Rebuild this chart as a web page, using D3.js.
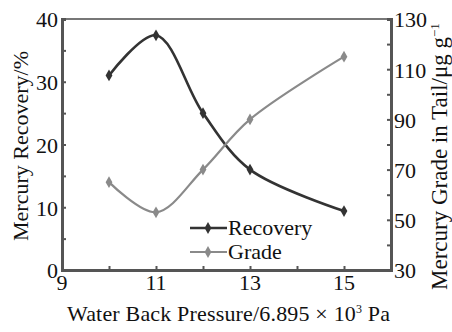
<!DOCTYPE html>
<html>
<head>
<meta charset="utf-8">
<script src="https://cdn.jsdelivr.net/npm/d3@7"></script>
<style>
  body { margin: 0; background: #fff; }
</style>
</head>
<body>
<svg id="chart" width="452" height="332"></svg>
<script>
// values
const pressure = [10, 11, 12, 13, 15];
const recovery = [31, 37.4, 25, 16, 9.4];
const grade = [65, 53, 70, 90, 115];

const xTicks = [9, 11, 13, 15];
const xMinor = [10, 12, 14];
const leftTicks = [0, 10, 20, 30, 40];
const leftMinor = [5, 15, 25, 35];
const rightTicks = [30, 50, 70, 90, 110, 130];
const rightMinor = [40, 60, 80, 100, 120];

const seriesNames = ['Recovery', 'Grade'];

const FONT = '"Liberation Serif", "Times New Roman", Times, "DejaVu Serif", serif';

const svg = d3.select('#chart')
    .attr('font-family', FONT)
    .style('font-family', FONT);
const margin = { left: 62, right: 61, top: 19, bottom: 62 };
const W = 452, H = 332;

const x = d3.scaleLinear().domain([9, 16]).range([margin.left, W - margin.right]);
const yL = d3.scaleLinear().domain([0, 40]).range([H - margin.bottom, margin.top]);
const yR = d3.scaleLinear().domain([30, 130]).range([H - margin.bottom, margin.top]);

const axisColor = '#555';
const fs = 22;

// frame: top border
svg.append('line')
    .attr('x1', x(9)).attr('x2', x(16))
    .attr('y1', yL(40)).attr('y2', yL(40))
    .style('stroke', '#777').style('stroke-width', 2);

const gx = svg.append('g')
    .attr('transform', `translate(0,${yL(0)})`)
    .call(d3.axisBottom(x).tickValues(xTicks.concat(xMinor)).tickSize(-4).tickFormat(''));
const gl = svg.append('g')
    .attr('transform', `translate(${x(9)},0)`)
    .call(d3.axisLeft(yL).tickValues(leftTicks.concat(leftMinor)).tickSize(-4).tickFormat(''));
const gr = svg.append('g')
    .attr('transform', `translate(${x(16)},0)`)
    .call(d3.axisRight(yR).tickValues(rightTicks.concat(rightMinor)).tickSize(-4).tickFormat(''));

[gx, gl, gr].forEach(g => {
    g.select('.domain').style('stroke', axisColor).style('stroke-width', 3);
    g.selectAll('.tick line').style('stroke', axisColor).style('stroke-width', 2);
});

function label(g) {
    return g.style('font-family', FONT).style('font-size', fs + 'px').style('fill', '#111');
}

// tick labels
label(svg.append('g').selectAll('text')
    .data(xTicks)
    .enter().append('text')
    .attr('x', d => x(d))
    .attr('y', yL(0) + 20)
    .attr('text-anchor', 'middle')
    .text(d => d));

label(svg.append('g').selectAll('text')
    .data(leftTicks)
    .enter().append('text')
    .attr('x', x(9) - 4)
    .attr('y', d => yL(d))
    .attr('dy', '0.38em')
    .attr('text-anchor', 'end')
    .text(d => d));

label(svg.append('g').selectAll('text')
    .data(rightTicks)
    .enter().append('text')
    .attr('x', x(16) + 3)
    .attr('y', d => yR(d))
    .attr('dy', '0.38em')
    .attr('text-anchor', 'start')
    .text(d => d));

// axis titles
const xTitle = label(svg.append('text'))
    .attr('x', 67).attr('y', 321)
    .attr('textLength', 323);
xTitle.append('tspan').text('Water Back Pressure/6.895 \u00d7 10');
xTitle.append('tspan').attr('dy', -8).style('font-size', '12px').text('3');
xTitle.append('tspan').attr('dy', 8).text(' Pa');

label(svg.append('text'))
    .attr('transform', 'translate(28,146) rotate(-90)')
    .attr('text-anchor', 'middle')
    .text('Mercury Recovery/%');

const rTitle = label(svg.append('text'))
    .attr('transform', 'translate(447,290) rotate(-90)')
    .attr('text-anchor', 'start')
    .style('font-size', '23px');
rTitle.append('tspan').text('Mercury Grade in Tail/\u03bcg g');
rTitle.append('tspan').attr('dy', -8).style('font-size', '13px').text('\u22121');

// series
const series = [
    { name: seriesNames[0], values: recovery, y: yL, color: '#333', width: 2.6 },
    { name: seriesNames[1], values: grade, y: yR, color: '#8a8a8a', width: 2.2 }
];

series.forEach(s => {
    const pts = pressure.map((p, i) => ({ x: p, v: s.values[i] }));
    const line = d3.line()
        .x(d => x(d.x))
        .y(d => s.y(d.v))
        .curve(d3.curveCatmullRom.alpha(0.5));

    svg.append('path')
        .attr('d', line(pts))
        .style('fill', 'none')
        .style('stroke', s.color)
        .style('stroke-width', s.width);

    svg.append('g').selectAll('path')
        .data(pts)
        .enter().append('path')
        .attr('d', d3.symbol().type(d3.symbolDiamond).size(40))
        .attr('transform', d => `translate(${x(d.x)},${s.y(d.v)})`)
        .style('fill', s.color);
});

// legend
const legend = svg.append('g');
series.forEach((s, i) => {
    const ly = 228 + i * 24;
    legend.append('line')
        .attr('x1', 190).attr('x2', 227)
        .attr('y1', ly).attr('y2', ly)
        .style('stroke', s.color).style('stroke-width', s.width);
    legend.append('path')
        .attr('d', d3.symbol().type(d3.symbolDiamond).size(40))
        .attr('transform', `translate(208,${ly})`)
        .style('fill', s.color);
    label(legend.append('text'))
        .attr('x', 228).attr('y', ly)
        .attr('dy', '0.33em')
        .text(s.name);
});
</script>
</body>
</html>
